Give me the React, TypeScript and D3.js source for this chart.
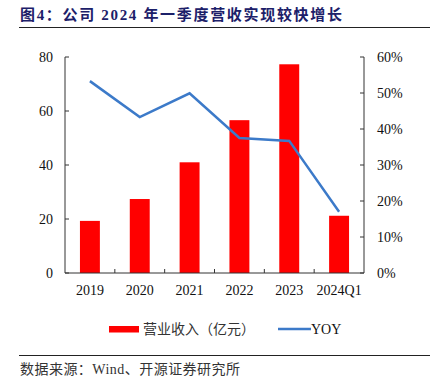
import * as d3 from "d3";

const categories = ["2019", "2020", "2021", "2022", "2023", "2024Q1"];
const revenue = [19.3, 27.4, 41.0, 56.6, 77.3, 21.2];
const yoy = [0.533, 0.433, 0.499, 0.375, 0.367, 0.17];
const leftTicks = [0, 20, 40, 60, 80];
const rightTicks = [0, 0.1, 0.2, 0.3, 0.4, 0.5, 0.6];

const W = 435;
const H = 388;
const plot = { left: 65, right: 364, top: 57, bottom: 273 };
const serif = "'Liberation Serif', 'Times New Roman', serif";
const cjk = "'Liberation Serif', 'Noto Sans CJK SC', serif";
const RED = "#ff0000";
const BLUE = "#3c7ac9";
const AXIS = "#333333";

export default function App() {
  const x = d3
    .scaleBand<string>()
    .domain(categories)
    .range([plot.left, plot.right])
    .paddingInner(0.6)
    .paddingOuter(0.3);
  const step = x.step();
  const yLeft = d3.scaleLinear().domain([0, 80]).range([plot.bottom, plot.top]);
  const yRight = d3.scaleLinear().domain([0, 0.6]).range([plot.bottom, plot.top]);

  const line = d3
    .line<number>()
    .x((_, i) => (x(categories[i]) || 0) + x.bandwidth() / 2)
    .y((d) => yRight(d));

  return (
    <svg
      width={W}
      height={H}
      style={{ position: "absolute", left: 0, top: 0, background: "#fff" }}
    >
      {/* title */}
      <text
        x={20}
        y={20}
        fontFamily={cjk}
        fontWeight="bold"
        fontSize={15}
        fill="#1c2069"
        textLength={322}
        lengthAdjust="spacing"
      >
        图4：公司 2024 年一季度营收实现较快增长
      </text>
      <line x1={19} x2={430} y1={27.5} y2={27.5} stroke="#222" strokeWidth={1} />

      {/* bars */}
      {revenue.map((v, i) => (
        <rect
          key={categories[i]}
          x={x(categories[i])}
          y={yLeft(v)}
          width={x.bandwidth()}
          height={plot.bottom - yLeft(v)}
          fill={RED}
        />
      ))}

      {/* yoy line */}
      <path d={line(yoy) || ""} fill="none" stroke={BLUE} strokeWidth={2.5} />

      {/* axes */}
      <line x1={plot.left} x2={plot.left} y1={plot.top} y2={plot.bottom} stroke={AXIS} />
      <line x1={plot.right} x2={plot.right} y1={plot.top} y2={plot.bottom} stroke={AXIS} />
      <line x1={plot.left} x2={plot.right} y1={plot.bottom} y2={plot.bottom} stroke={AXIS} />

      {leftTicks.map((t) => (
        <g key={"l" + t}>
          <line x1={plot.left} x2={plot.left + 4} y1={yLeft(t)} y2={yLeft(t)} stroke={AXIS} />
          <text
            x={53}
            y={yLeft(t)}
            textAnchor="end"
            dominantBaseline="central"
            fontFamily={serif}
            fontSize={14}
            fill="#111"
          >
            {t}
          </text>
        </g>
      ))}

      {rightTicks.map((t) => (
        <g key={"r" + t}>
          <line x1={plot.right - 4} x2={plot.right} y1={yRight(t)} y2={yRight(t)} stroke={AXIS} />
          <text
            x={377}
            y={yRight(t)}
            dominantBaseline="central"
            fontFamily={serif}
            fontSize={14}
            fill="#111"
          >
            {d3.format(".0%")(t)}
          </text>
        </g>
      ))}

      {categories.map((c, i) => (
        <g key={c}>
          {i > 0 && (
            <line
              x1={plot.left + i * step}
              x2={plot.left + i * step}
              y1={plot.bottom - 4}
              y2={plot.bottom}
              stroke={AXIS}
            />
          )}
          <text
            x={(x(c) || 0) + x.bandwidth() / 2}
            y={295}
            textAnchor="middle"
            fontFamily={serif}
            fontSize={14}
            fill="#111"
          >
            {c}
          </text>
        </g>
      ))}

      {/* legend */}
      <rect x={109} y={326} width={30} height={6.5} fill={RED} />
      <text x={143} y={329} dominantBaseline="central" fontFamily={cjk} fontSize={14} fill="#333">
        营业收入（亿元）
      </text>
      <line x1={278} x2={311} y1={329} y2={329} stroke={BLUE} strokeWidth={2.5} />
      <text x={311} y={329} dominantBaseline="central" fontFamily={serif} fontSize={14} fill="#111">
        YOY
      </text>

      {/* source */}
      <line x1={19} x2={430} y1={355.5} y2={355.5} stroke="#222" strokeWidth={1} />
      <text
        x={20}
        y={374}
        fontFamily={cjk}
        fontSize={14}
        fill="#333"
        textLength={220}
        lengthAdjust="spacing"
      >
        数据来源：Wind、开源证券研究所
      </text>
    </svg>
  );
}
